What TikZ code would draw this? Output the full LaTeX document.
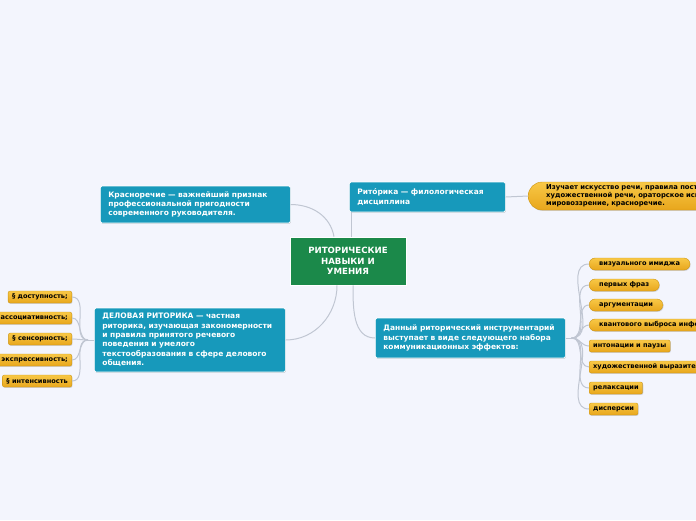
\documentclass[tikz,border=0pt]{standalone}
\usepackage{fontspec}
\setmainfont{DejaVu Sans}
\usetikzlibrary{shadows}
\definecolor{bgc}{RGB}{243,245,253}
\definecolor{tealc}{RGB}{23,153,187}
\definecolor{grnc}{RGB}{27,137,74}
\definecolor{goldt}{RGB}{248,200,70}
\definecolor{goldb}{RGB}{232,166,28}
\definecolor{goldd}{RGB}{205,150,20}
\definecolor{connc}{RGB}{192,198,210}
\begin{document}
\begin{tikzpicture}[x=1pt,y=-1pt,
  shd/.style={drop shadow={shadow xshift=0.6pt, shadow yshift=-0.9pt, opacity=0.25, fill=black!60}},
  mainbox/.style={fill=tealc, draw=white, line width=0.7pt, rounded corners=1.5pt, shd,
    text=white, font=\fontsize{7.5}{9.2}\selectfont\bfseries, align=left,
    inner xsep=8pt, inner ysep=2pt, anchor=west},
  centerbox/.style={fill=grnc, draw=white, line width=0.7pt, text=white, shd,
    font=\fontsize{8.6}{10.5}\selectfont\bfseries, align=center, anchor=center,
    minimum width=116pt, minimum height=48pt, inner sep=0pt},
  goldfill/.style={top color=goldt, bottom color=goldb, draw=goldd, line width=0.4pt, shd},
  pill/.style={goldfill, rounded corners=6pt,
    text=black, font=\fontsize{6.6}{7}\selectfont\bfseries, inner xsep=10pt,
    inner ysep=0pt, minimum height=12pt},
  leaf/.style={goldfill, rounded corners=2pt,
    text=black, font=\fontsize{6.6}{7}\selectfont\bfseries, inner xsep=4pt,
    inner ysep=0pt, minimum height=12pt},
  conn/.style={draw=connc, line width=1pt}]
\fill[bgc] (0,0) rectangle (696,520);
\useasboundingbox (0,0) rectangle (696,520);
\clip (0,0) rectangle (696,520);

% main nodes
\node[centerbox] (ctr) at (348,261) {РИТОРИЧЕСКИЕ\\НАВЫКИ И\\УМЕНИЯ};
\node[mainbox, text width=174pt, minimum height=37pt] (kr) at (100,204.5)
  {Красноречие — важнейший признак\\профессиональной пригодности\\современного руководителя.};
\node[mainbox, text width=140pt, minimum height=30pt] (rt) at (349,197)
  {Рито́рика — филологическая\\дисциплина};
\node[mainbox, text width=175pt, minimum height=64pt, font=\fontsize{7.5}{9.4}\selectfont\bfseries] (dl) at (94,340)
  {ДЕЛОВАЯ РИТОРИКА — частная\\риторика, изучающая закономерности\\и правила принятого речевого\\поведения и умелого\\текстообразования в сфере делового\\общения.};
\node[mainbox, text width=174pt, minimum height=40pt] (dr) at (375,338)
  {Данный риторический инструментарий\\выступает в виде следующего набора\\коммуникационных эффектов:};

\node[goldfill, rounded corners=14pt, anchor=west,
  text=black, font=\fontsize{6.8}{7.8}\selectfont\bfseries, align=left,
  inner xsep=18pt, inner ysep=0pt, minimum height=28pt, text width=230pt] (yel) at (528,196)
  {Изучает искусство речи, правила построения\\художественной речи, ораторское искусство,\\мировоззрение, красноречие.};

% left leaves
\node[leaf, anchor=east] (l1) at (72,297) {§ доступность;};
\node[leaf, anchor=east] (l2) at (72,318) {§ ассоциативность;};
\node[leaf, anchor=east] (l3) at (72,339) {§ сенсорность;};
\node[leaf, anchor=east] (l4) at (72,360) {§ экспрессивность;};
\node[leaf, anchor=east] (l5) at (72,381) {§ интенсивность};

% right leaves
\node[pill, anchor=west] (r1) at (589,264) {визуального имиджа};
\node[pill, anchor=west] (r2) at (589,285) {первых фраз};
\node[pill, anchor=west] (r3) at (589,305) {аргументации};
\node[pill, anchor=west] (r4) at (589,325) {квантового выброса информации};
\node[leaf, anchor=west] (r5) at (589,346) {интонации и паузы};
\node[leaf, anchor=west] (r6) at (589,367) {художественной выразительности};
\node[leaf, anchor=west] (r7) at (589,388) {релаксации};
\node[leaf, anchor=west] (r8) at (589,409) {дисперсии};

% connectors from center
\draw[conn] ([xshift=-14pt]ctr.north) to[out=100,in=0] (kr.east);
\draw[conn] ([xshift=2pt]rt.south west) -- ([xshift=2pt]rt.south west |- ctr.north);
\draw[conn] ([xshift=-11pt]ctr.south) to[out=-90,in=0] (dl.east);
\draw[conn] ([xshift=5pt]ctr.south) to[out=-90,in=180] (dr.west);
\draw[conn] (rt.east) -- (yel.west);

% left fan
\coordinate (dlo) at ([xshift=-6pt]dl.west);
\draw[conn] (dl.west) -- (dlo);
\foreach \l in {l1,l2,l3,l4,l5}
  \draw[conn] (dlo) to[out=180,in=0] (\l.east);

% right fan
\coordinate (dro) at ([xshift=6pt]dr.east);
\draw[conn] (dr.east) -- (dro);
\foreach \r in {r1,r2,r3,r4,r5,r6,r7,r8}
  \draw[conn] (dro) to[out=0,in=180] (\r.west);
\end{tikzpicture}
\end{document}
